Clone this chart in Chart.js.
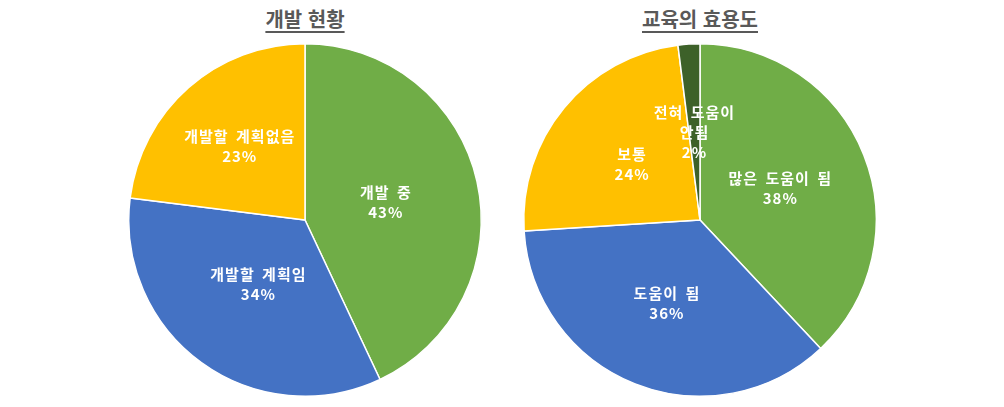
<!DOCTYPE html>
<html lang="ko">
<head>
<meta charset="utf-8">
<script src="https://cdn.jsdelivr.net/npm/chart.js@4"></script>
<style>
  html,body{margin:0;padding:0;background:#fff;}
  body{width:1004px;height:407px;position:relative;overflow:hidden;font-family:"Noto Sans CJK KR","Noto Sans",sans-serif;}
  .ttl{position:absolute;top:4px;width:380px;text-align:center;font-weight:bold;font-size:20px;color:#595959;
       text-decoration:underline;text-decoration-thickness:2px;text-underline-offset:4px;}
  .box{position:absolute;top:43px;width:380px;height:354px;}
</style>
</head>
<body>
<div class="ttl" style="left:115px">개발 현황</div>
<div class="ttl" style="left:510px">교육의 효용도</div>
<div class="box" style="left:115px"><canvas id="chDev"></canvas></div>
<div class="box" style="left:510px"><canvas id="chEdu"></canvas></div>
<script>
// 개발 현황
const devLabels = ['개발 중', '개발할 계획임', '개발할 계획없음'];
const devValues = [43, 34, 23];
const devColors = ['#70AD47', '#4472C4', '#FFC000'];
const devLabelPos = [0.47, 0.45, 0.56];

// 교육의 효용도
const eduLabels = ['많은 도움이 됨', '도움이 됨', '보통', ['전혀 도움이', '안됨']];
const eduValues = [38, 36, 24, 2];
const eduColors = ['#70AD47', '#4472C4', '#FFC000', '#3D6129'];
const eduLabelPos = [0.49, 0.51, 0.5, 0.5];

// label text drawn at a fraction of the radius along each slice's bisector
const sliceText = {
  id: 'sliceText',
  afterDatasetsDraw(chart, args, opts){
    const ctx = chart.ctx;
    const meta = chart.getDatasetMeta(0);
    const vals = chart.data.datasets[0].data;
    ctx.save();
    ctx.fillStyle = '#fff';
    ctx.font = 'bold 15px "Noto Sans CJK KR", sans-serif';
    ctx.letterSpacing = '1px';
    ctx.wordSpacing = '3px';
    ctx.textAlign = 'center'; ctx.textBaseline = 'middle';
    meta.data.forEach((arc, i)=>{
      const p = arc.getProps(['x','y','startAngle','endAngle','outerRadius'], true);
      const mid = (p.startAngle + p.endAngle) / 2;
      const r = p.outerRadius * opts.pos[i];
      const cx = p.x + Math.cos(mid) * r, cy = p.y + Math.sin(mid) * r;
      let lines = chart.data.labels[i];
      lines = (Array.isArray(lines) ? lines : [lines]).concat(vals[i] + '%');
      const lh = 20, y0 = cy - (lines.length - 1) * lh / 2;
      lines.forEach((t, k)=> ctx.fillText(t, cx, y0 + k * lh));
    });
    ctx.restore();
  }
};

const mk = (id, labels, data, colors, pos)=> new Chart(document.getElementById(id), {
  type: 'pie',
  data: { labels, datasets: [{ data, backgroundColor: colors, borderColor: '#fff', borderWidth: 1.5 }] },
  options: {
    responsive: true, maintainAspectRatio: false, animation: false,
    layout: { padding: 0 },
    plugins: { legend: { display: false }, tooltip: { enabled: false }, sliceText: { pos } }
  },
  plugins: [sliceText]
});

mk('chDev', devLabels, devValues, devColors, devLabelPos);
mk('chEdu', eduLabels, eduValues, eduColors, eduLabelPos);
</script>
</body>
</html>
